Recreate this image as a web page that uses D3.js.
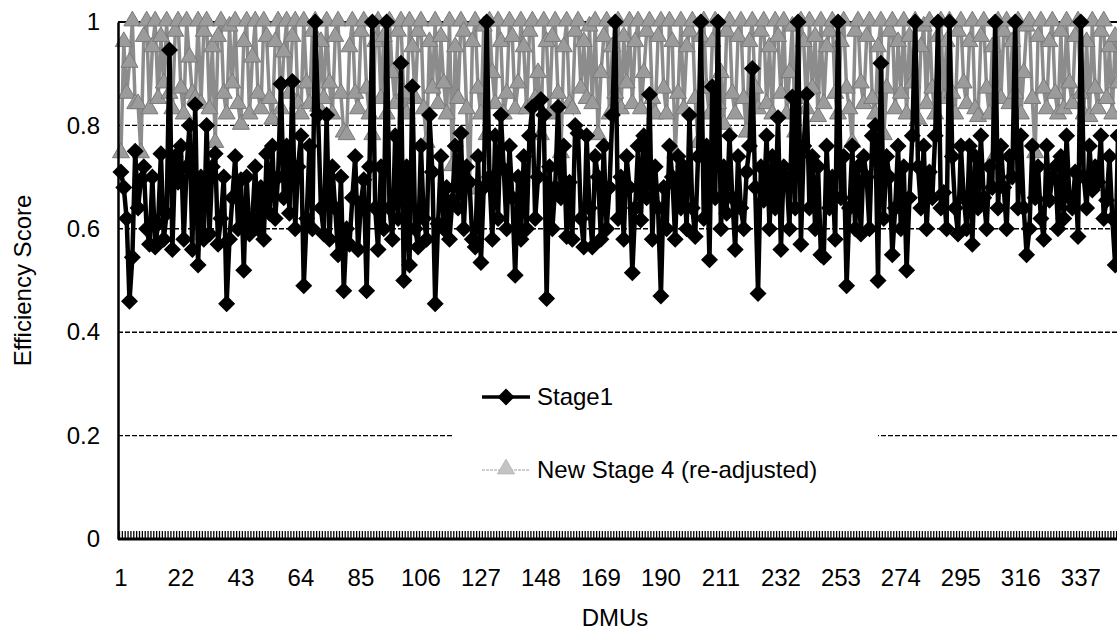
<!DOCTYPE html>
<html>
<head>
<meta charset="utf-8">
<script src="https://cdn.jsdelivr.net/npm/d3@7"></script>
<style>
  body { margin: 0; background: #fff; }
  text { font-family: "Liberation Sans", Arial, sans-serif; fill: #000; }
</style>
</head>
<body>
<div id="chart"></div>
<script>
// Stage1 efficiency scores, DMU 1..350
var stage1 = [
  0.71,0.68,0.62,0.46,0.545,0.75,0.64,0.695,0.72,0.60,
  0.57,0.70,0.565,0.61,0.745,0.58,0.63,0.946,0.56,0.74,
  0.69,0.76,0.58,0.72,0.80,0.56,0.84,0.53,0.70,0.58,
  0.80,0.59,0.72,0.745,0.57,0.62,0.70,0.455,0.58,0.66,
  0.74,0.60,0.695,0.52,0.70,0.59,0.62,0.72,0.60,0.68,
  0.58,0.745,0.63,0.76,0.62,0.70,0.88,0.66,0.76,0.63,
  0.885,0.60,0.72,0.78,0.49,0.62,0.76,0.60,1.0,0.82,
  0.64,0.59,0.82,0.58,0.72,0.64,0.55,0.70,0.48,0.60,
  0.57,0.66,0.74,0.56,0.65,0.695,0.48,0.72,1.0,0.64,
  0.56,0.72,0.60,1.0,0.64,0.58,0.78,0.62,0.92,0.50,
  0.72,0.53,0.875,0.60,0.565,0.76,0.62,0.58,0.82,0.71,
  0.455,0.61,0.74,0.60,0.68,0.58,0.655,0.76,0.64,0.785,
  0.60,0.72,0.69,0.58,0.565,0.74,0.535,0.68,1.0,0.70,
  0.58,0.78,0.62,0.82,0.715,0.60,0.76,0.66,0.51,0.70,
  0.58,0.74,0.60,0.78,0.835,0.62,0.70,0.85,0.82,0.465,
  0.72,0.60,0.68,0.835,0.66,0.76,0.585,0.69,0.58,0.80,
  0.785,0.62,0.565,0.78,0.64,0.565,0.74,0.70,0.58,0.76,
  0.60,0.68,0.82,1.0,0.62,0.70,0.58,0.74,0.68,0.515,
  0.64,0.76,0.617,0.78,0.66,0.86,0.58,0.72,0.64,0.47,
  0.68,0.60,0.76,0.70,0.58,0.74,0.64,0.72,0.60,0.82,
  0.64,0.585,0.74,1.0,0.62,0.76,0.54,0.875,0.66,1.0,
  0.60,0.72,0.63,0.78,0.66,0.56,0.74,0.64,0.60,0.71,
  0.76,0.91,0.68,0.475,0.72,0.655,0.78,0.60,0.74,0.64,
  0.815,0.56,0.72,0.70,0.60,0.855,0.64,1.0,0.57,0.76,
  0.86,0.64,0.74,0.60,0.72,0.55,0.545,0.76,0.64,0.70,
  0.58,1.0,0.66,0.74,0.49,0.64,0.76,0.60,0.72,0.59,
  0.74,0.70,0.60,0.78,0.80,0.50,0.92,0.62,0.74,0.70,
  0.55,0.64,0.76,0.60,0.72,0.52,0.66,0.78,1.0,0.72,
  0.64,0.76,0.60,0.71,0.66,0.78,1.0,0.64,0.67,0.60,
  1.0,0.74,0.64,0.59,0.76,0.66,0.60,0.76,0.57,0.74,
  0.64,0.78,0.66,0.60,0.72,0.68,1.0,0.64,0.76,0.68,
  0.60,0.74,0.70,1.0,0.64,0.78,0.64,0.55,0.60,0.76,
  0.66,0.72,0.62,0.58,0.76,0.655,0.70,0.72,0.60,0.74,
  0.62,0.78,0.66,0.64,0.71,0.585,1.0,0.70,0.64,0.76,
  0.675,0.72,0.69,0.78,0.62,0.655,0.74,0.62,0.53,0.78
];

// New Stage 4 (re-adjusted) scores, DMU 1..350
var stage4 = [
  0.745,0.96,0.86,0.92,1.0,0.84,0.84,0.745,0.97,1.0,
  0.83,0.95,1.0,0.85,0.97,0.88,1.0,0.86,0.83,0.98,
  1.0,0.87,0.82,1.0,0.93,0.86,0.85,1.0,0.84,0.98,
  1.0,0.83,0.95,0.765,0.97,1.0,0.86,0.82,0.99,0.88,
  1.0,0.84,0.80,0.96,1.0,0.82,0.93,1.0,0.86,0.83,
  1.0,0.97,0.85,0.81,0.96,1.0,0.83,0.94,1.0,0.86,
  0.97,1.0,0.84,0.82,1.0,0.88,0.84,0.98,1.0,0.835,
  0.96,0.85,1.0,0.88,0.82,0.97,1.0,0.86,0.785,0.78,
  0.95,1.0,0.86,0.83,0.98,1.0,0.87,0.82,0.78,0.96,
  1.0,0.85,0.97,0.82,1.0,0.90,0.84,0.98,1.0,0.86,
  0.82,1.0,0.95,0.85,0.98,1.0,0.83,0.765,0.96,0.87,
  1.0,0.84,0.97,0.88,0.82,1.0,0.72,0.95,0.85,1.0,
  0.98,0.83,0.675,0.96,1.0,0.87,0.82,0.99,0.78,1.0,
  0.90,0.84,1.0,0.96,0.82,0.86,1.0,0.97,0.83,0.88,
  1.0,0.95,0.83,0.98,1.0,0.85,0.90,0.78,1.0,0.96,
  0.82,0.97,1.0,0.86,0.745,0.95,1.0,0.84,0.83,0.98,
  1.0,0.87,0.96,0.85,0.99,0.84,1.0,0.78,0.90,0.97,
  1.0,0.82,0.95,0.86,1.0,0.83,0.97,0.88,1.0,0.84,
  0.96,1.0,0.83,0.90,0.98,1.0,0.85,0.82,0.97,1.0,
  0.87,0.82,1.0,0.96,0.745,0.86,1.0,0.83,0.95,0.98,
  1.0,0.85,0.765,0.97,1.0,0.87,0.82,0.96,1.0,0.84,
  0.90,0.80,0.98,1.0,0.86,0.82,0.97,1.0,0.85,0.785,
  0.96,1.0,0.87,0.83,0.98,1.0,0.84,0.95,0.82,1.0,
  0.97,0.86,1.0,0.82,0.90,0.99,0.785,0.85,1.0,0.96,
  0.83,1.0,0.87,0.97,0.815,1.0,0.84,0.95,0.98,1.0,
  0.86,0.82,0.96,1.0,0.87,0.83,0.765,0.98,1.0,0.88,
  0.84,0.97,1.0,0.85,0.82,0.95,1.0,0.78,0.87,0.98,
  1.0,0.83,0.96,0.86,1.0,0.82,0.97,0.88,1.0,0.81,
  0.95,0.99,0.84,1.0,0.87,0.82,0.97,1.0,0.85,0.96,
  1.0,0.86,0.82,0.98,1.0,0.88,0.84,0.96,1.0,0.83,
  0.815,0.97,1.0,0.87,0.82,0.95,0.74,1.0,0.85,0.98,
  1.0,0.84,0.96,0.86,1.0,0.82,0.90,0.99,1.0,0.85,
  0.745,0.97,1.0,0.87,0.83,0.96,1.0,0.86,0.82,0.98,
  0.83,1.0,0.88,0.84,0.97,1.0,0.86,0.82,0.96,0.815,
  1.0,0.87,0.83,0.98,1.0,0.85,0.95,0.82,0.97,0.88
];

var dmus = stage1.map(function(d, i) { return i + 1; });
var xLabels = [1, 22, 43, 64, 85, 106, 127, 148, 169, 190, 211, 232, 253, 274, 295, 316, 337];
var yTicks = [0, 0.2, 0.4, 0.6, 0.8, 1];
var seriesNames = ["Stage1", "New Stage 4 (re-adjusted)"];

var W = 1117, H = 634;
var m = {left: 118, top: 22, bottom: 95};
var step = 2.857;

var svg = d3.select("#chart").append("svg")
    .attr("width", W)
    .attr("height", H);

var x = d3.scaleBand()
    .domain(dmus)
    .range([m.left + 1.5, m.left + 1.5 + dmus.length * step]);

var y = d3.scaleLinear()
    .domain([0, 1])
    .range([H - m.bottom, m.top]);

var xc = function(d) { return x(d) + x.bandwidth() / 2; };

// gridlines
svg.append("g").selectAll("line")
    .data(yTicks.filter(function(t) { return t > 0 && t < 1; }))
    .enter().append("line")
    .attr("x1", m.left).attr("x2", W)
    .attr("y1", function(d) { return y(d); })
    .attr("y2", function(d) { return y(d); })
    .attr("stroke", "#000")
    .attr("stroke-width", 1.4)
    .attr("stroke-dasharray", "5,2");

svg.append("line")
    .attr("x1", m.left).attr("x2", W)
    .attr("y1", y(1)).attr("y2", y(1))
    .attr("stroke", "#000").attr("stroke-width", 2);

// series
var diamond = "M0,-8.5L8.5,0L0,8.5L-8.5,0Z";
var tri = d3.symbol().type(d3.symbolTriangle).size(125);

var line4 = d3.line()
    .x(function(d, i) { return xc(dmus[i]); })
    .y(function(d) { return y(d); });

svg.append("path")
    .datum(stage4)
    .attr("fill", "none")
    .attr("stroke", "#8c8c8c")
    .attr("stroke-width", 3.5)
    .attr("d", line4);

svg.append("g").selectAll("path")
    .data(stage4)
    .enter().append("path")
    .attr("d", tri)
    .attr("transform", function(d, i) { return "translate(" + xc(dmus[i]) + "," + (y(d) - 1) + ")"; })
    .attr("fill", "#9b9b9b")
    .attr("stroke", "#7a7a7a")
    .attr("stroke-width", 1);

svg.append("path")
    .datum(stage1)
    .attr("fill", "none")
    .attr("stroke", "#000")
    .attr("stroke-width", 4.5)
    .attr("d", line4);

svg.append("g").selectAll("path")
    .data(stage1)
    .enter().append("path")
    .attr("d", diamond)
    .attr("transform", function(d, i) { return "translate(" + xc(dmus[i]) + "," + y(d) + ")"; })
    .attr("fill", "#000");

// axes
var yAxis = d3.axisLeft(y).tickValues(yTicks).tickSize(0).tickPadding(18)
    .tickFormat(function(d) { return d === 0 || d === 1 ? d : d3.format(".1f")(d); });
svg.append("g")
    .attr("transform", "translate(" + m.left + ",0)")
    .call(yAxis)
    .call(function(g) {
        g.select(".domain").attr("stroke", "#000").attr("stroke-width", 2.5);
        g.selectAll("text").attr("font-size", 24).attr("font-family", "Liberation Sans, Arial, sans-serif");
    });

var xAxis = d3.axisBottom(x).tickSize(0).tickPadding(30)
    .tickValues(xLabels);
svg.append("g")
    .attr("transform", "translate(0," + y(0) + ")")
    .call(xAxis)
    .call(function(g) {
        g.select(".domain").remove();
        g.selectAll("text").attr("font-size", 24).attr("font-family", "Liberation Sans, Arial, sans-serif");
    });

// category tick marks along the bottom
svg.append("g").selectAll("line")
    .data(dmus)
    .enter().append("line")
    .attr("x1", function(d) { return x(d); })
    .attr("x2", function(d) { return x(d); })
    .attr("y1", y(0)).attr("y2", y(0) - 8)
    .attr("stroke", "#000").attr("stroke-width", 1.3);

svg.append("line")
    .attr("x1", m.left).attr("x2", W)
    .attr("y1", y(0)).attr("y2", y(0))
    .attr("stroke", "#000").attr("stroke-width", 3);

// axis titles
svg.append("text")
    .attr("transform", "rotate(-90)")
    .attr("x", -(y(0) + y(1)) / 2)
    .attr("y", 31)
    .attr("text-anchor", "middle")
    .attr("font-size", 24)
    .text("Efficiency Score");

svg.append("text")
    .attr("x", 615)
    .attr("y", 626)
    .attr("text-anchor", "middle")
    .attr("font-size", 24)
    .text("DMUs");

// legend
var lg = svg.append("g");
lg.append("rect")
    .attr("x", 452).attr("y", 362)
    .attr("width", 426).attr("height", 140)
    .attr("fill", "#fff");

lg.append("line")
    .attr("x1", 482).attr("x2", 530).attr("y1", 397).attr("y2", 397)
    .attr("stroke", "#000").attr("stroke-width", 3.5);
lg.append("path").attr("d", diamond)
    .attr("transform", "translate(506,397)").attr("fill", "#000");
lg.append("text").attr("x", 537).attr("y", 405).attr("font-size", 24).text(seriesNames[0]);

lg.append("line")
    .attr("x1", 482).attr("x2", 530).attr("y1", 470).attr("y2", 470)
    .attr("stroke", "#cfcfcf").attr("stroke-width", 2)
    .attr("stroke-dasharray", "3,1");
lg.append("path").attr("d", tri)
    .attr("transform", "translate(506,469)").attr("fill", "#c4c4c4").attr("stroke", "#b0b0b0").attr("stroke-width", 0.8);
lg.append("text").attr("x", 537).attr("y", 478).attr("font-size", 24).text(seriesNames[1]);
</script>
</body>
</html>
